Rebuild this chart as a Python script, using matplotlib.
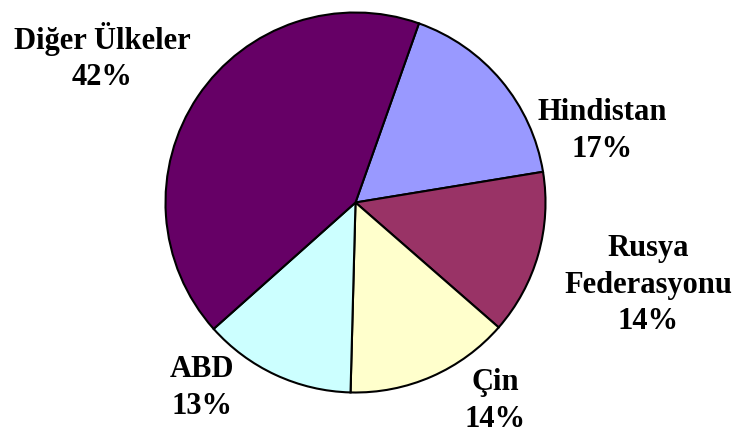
import matplotlib.pyplot as plt

# ulkelere gore pay (%)
labels = ["Hindistan", "Rusya\nFederasyonu", "Çin", "ABD", "Diğer Ülkeler"]
values = [17, 14, 14, 13, 42]
colors = ["#9999FF", "#993366", "#FFFFCC", "#CCFFFF", "#660066"]

# etiket yerleri (piksel, sol-ust koordinat)
label_pos = [(602, 131), (648, 285), (495, 401), (202, 388), (102, 57)]

W, H = 735, 435
fig = plt.figure(figsize=(W / 100, H / 100), dpi=100)
ax = fig.add_axes([0, 0, 1, 1])

ax.pie(values, colors=colors, startangle=70.5, counterclock=False,
       center=(355.5, H - 203.5), radius=190,
       wedgeprops=dict(edgecolor="black", linewidth=1.5))

# pie limitleri sifirliyor, sonra ayarla
ax.set_xlim(0, W)
ax.set_ylim(0, H)
ax.set_aspect("equal")
ax.axis("off")

for lab, v, (x, y) in zip(labels, values, label_pos):
    ax.text(x, H - y, f"{lab}\n{v}%", ha="center", va="center",
            fontsize=22, fontweight="bold", family="Liberation Serif",
            linespacing=1.35)

fig.savefig("out.png", dpi=100)
